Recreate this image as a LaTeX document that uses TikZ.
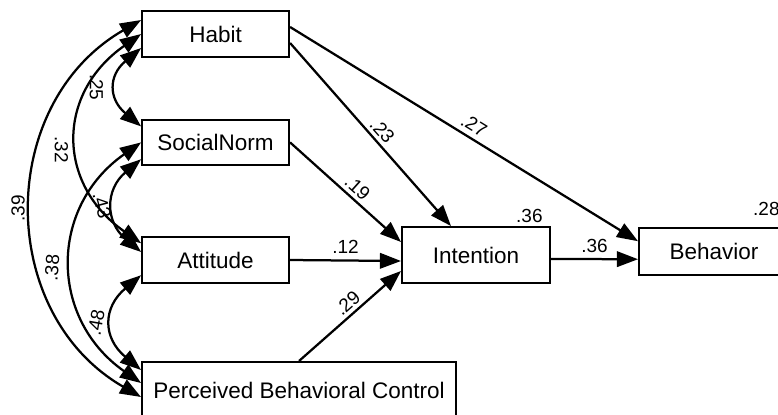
\documentclass[tikz,border=0pt]{standalone}
\usepackage{fontspec}
\setmainfont{Liberation Sans}
\usetikzlibrary{arrows.meta, positioning}

\begin{document}
\begin{tikzpicture}[font=\fontsize{16}{19}\selectfont, >={Triangle[length=15pt,width=11pt]},
    var/.style={draw, line width=1.4pt, fill=white, inner sep=0pt},
    reg/.style={->, line width=1.6pt},
    cov/.style={<->, line width=1.6pt},
    coef/.style={font=\fontsize{13.5}{15}\selectfont, inner sep=1.5pt}]
    \useasboundingbox (0,0) rectangle (19.45,-10.35);

    % exogenous variables
    \node[var, minimum width=3.675cm, minimum height=1.15cm] (hab) at (5.39,-0.85) {Habit};
    \node[var, minimum width=3.675cm, minimum height=1.125cm] (soc) at (5.39,-3.56) {SocialNorm};
    \node[var, minimum width=3.675cm, minimum height=1.15cm] (att) at (5.39,-6.5) {Attitude};
    \node[var, minimum width=7.85cm, minimum height=1.4cm] (pbc) at (7.475,-9.75) {Perceived Behavioral Control};

    % endogenous variables
    \node[var, minimum width=3.7cm, minimum height=1.4cm] (int) at (11.9,-6.375) {Intention};
    \node[var, minimum width=3.75cm, minimum height=1.175cm] (beh) at (17.85,-6.29) {Behavior};

    \node[coef, above left=0.02cm and 0.15cm of int.north east] (r2int) {.36};
    \node[coef, above left=0.22cm and 0.2cm of beh.north east] (r2beh) {.28};

    % paths
    \draw[reg] ([yshift=0.175cm]hab.east) -- node[coef, sloped, above=2pt, pos=0.51] {.27} ([yshift=0.26cm]beh.west);
    \draw[reg] ([yshift=-0.225cm]hab.east) -- node[coef, sloped, above=1pt, pos=0.52] {.23} ([xshift=-0.625cm]int.north);
    \draw[reg] (soc.east) -- node[coef, sloped, above=1pt, pos=0.54] {.19} ([yshift=0.325cm]int.west);
    \draw[reg] (att.east) -- node[coef, above=3pt] {.12} ([yshift=-0.15cm]int.west);
    \draw[reg] (pbc.north) -- node[coef, sloped, above=1pt, pos=0.55] {.29} ([yshift=-0.4cm]int.west);
    \draw[reg] ([yshift=-0.1cm]int.east) -- node[coef, above=2pt] {.36} ([yshift=-0.19cm]beh.west);

    % covariances
    \draw[cov] ([yshift=-0.35cm]hab.west) to[out=220, in=140, looseness=1.4]
        node[coef, xshift=-0.5cm, rotate=-90] {.25} ([yshift=0.4cm]soc.west);
    \draw[cov] (hab.west) to[out=215, in=145, looseness=1.27]
        node[coef, pos=0.55, xshift=-0.42cm, rotate=-90] {.32} ([yshift=0.42cm]att.west);
    \draw[cov] ([yshift=0.35cm]hab.west) to[out=210, in=150, looseness=1.14]
        node[coef, xshift=-0.35cm, rotate=90] {.39} ([yshift=-0.175cm]pbc.west);
    \draw[cov] ([yshift=-0.42cm]soc.west) to[out=220, in=140, looseness=1.3]
        node[coef, xshift=-0.3cm, rotate=-75] {.43} ([yshift=0.2cm]att.west);
    \draw[cov] (soc.west) to[out=215, in=145, looseness=1.2]
        node[coef, pos=0.52, xshift=-0.5cm, rotate=85] {.38} ([yshift=0.175cm]pbc.west);
    \draw[cov] ([yshift=-0.38cm]att.west) to[out=220, in=140, looseness=1.36]
        node[coef, xshift=-0.4cm, rotate=80] {.48} ([yshift=0.5cm]pbc.west);
\end{tikzpicture}
\end{document}
